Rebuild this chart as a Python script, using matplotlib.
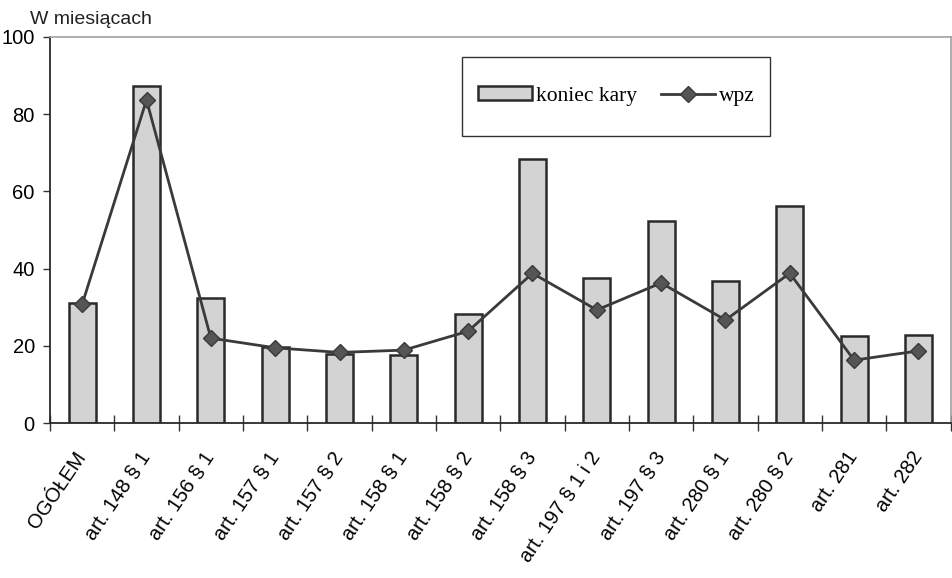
import matplotlib.pyplot as plt
from matplotlib.patches import Rectangle
import numpy as np

categories = ["OGÓŁEM", "art. 148 § 1", "art. 156 § 1", "art. 157 § 1",
              "art. 157 § 2", "art. 158 § 1", "art. 158 § 2", "art. 158 § 3",
              "art. 197 § 1 i 2", "art. 197 § 3", "art. 280 § 1",
              "art. 280 § 2", "art. 281", "art. 282"]
koniec_kary = [31.0, 87.3, 32.5, 19.8, 18.0, 17.7, 28.2, 68.3,
               37.6, 52.4, 36.9, 56.3, 22.5, 22.8]
wpz = [30.8, 83.7, 22.0, 19.5, 18.3, 18.9, 23.8, 38.8,
       29.3, 36.3, 26.7, 38.8, 16.3, 18.7]

sans = ['Liberation Sans', 'DejaVu Sans']
serif = ['Liberation Serif', 'DejaVu Serif']

fig = plt.figure(figsize=(9.53, 5.78), dpi=100)
ax = fig.add_axes([0.0525, 0.268, 0.945, 0.668])

x = np.arange(len(categories))
bars = ax.bar(x, koniec_kary, width=0.42, color='#d3d3d3', edgecolor='#2a2a2a',
              linewidth=1.8, label='koniec kary', zorder=2)
line, = ax.plot(x, wpz, color='#3a3a3a', linewidth=2.0, marker='D',
                markersize=8.5, markerfacecolor='#555555',
                markeredgecolor='#3a3a3a', label='wpz', zorder=3)

ax.set_xlim(-0.5, len(categories) - 0.5)
ax.set_ylim(0, 100)
ax.set_yticks([0, 20, 40, 60, 80, 100])
ax.tick_params(axis='y', direction='out', length=5, width=1, color='#333333',
               labelsize=14.5, pad=6)
for t in ax.get_yticklabels():
    t.set_fontfamily(sans)

# category labels at centres, tick marks at boundaries
ax.set_xticks(x)
ax.set_xticklabels(categories, rotation=56, ha='right', va='center',
                   rotation_mode='anchor', fontsize=14.5, family=sans)
ax.tick_params(axis='x', which='major', length=0, pad=22)
ax.set_xticks(np.arange(-0.5, len(categories), 1.0), minor=True)
ax.tick_params(axis='x', which='minor', direction='inout', length=12,
               width=1, color='#333333')

for side in ['left', 'bottom']:
    ax.spines[side].set_color('#2a2a2a')
    ax.spines[side].set_linewidth(1.3)
for side in ['top', 'right']:
    ax.spines[side].set_color('#a0a0a0')
    ax.spines[side].set_linewidth(1.2)

fig.text(0.031, 0.967, "W miesiącach", fontsize=14, family=sans,
         ha='left', va='center', color='#222222')

# legend box drawn separately to get the wide vertical padding
ax.add_patch(Rectangle((0.457, 0.743), 0.342, 0.205, transform=ax.transAxes,
                       facecolor='white', edgecolor='#333333', linewidth=1.0,
                       zorder=4))
leg = ax.legend([bars, line], ['koniec kary', 'wpz'], loc='center',
                bbox_to_anchor=(0.629, 0.847), ncol=2,
                prop={'family': serif, 'size': 15.5}, frameon=False,
                handlelength=2.5, handleheight=0.6, borderpad=0.2,
                columnspacing=1.1, handletextpad=0.2)
leg.set_zorder(5)

fig.savefig('out.png', dpi=100)
